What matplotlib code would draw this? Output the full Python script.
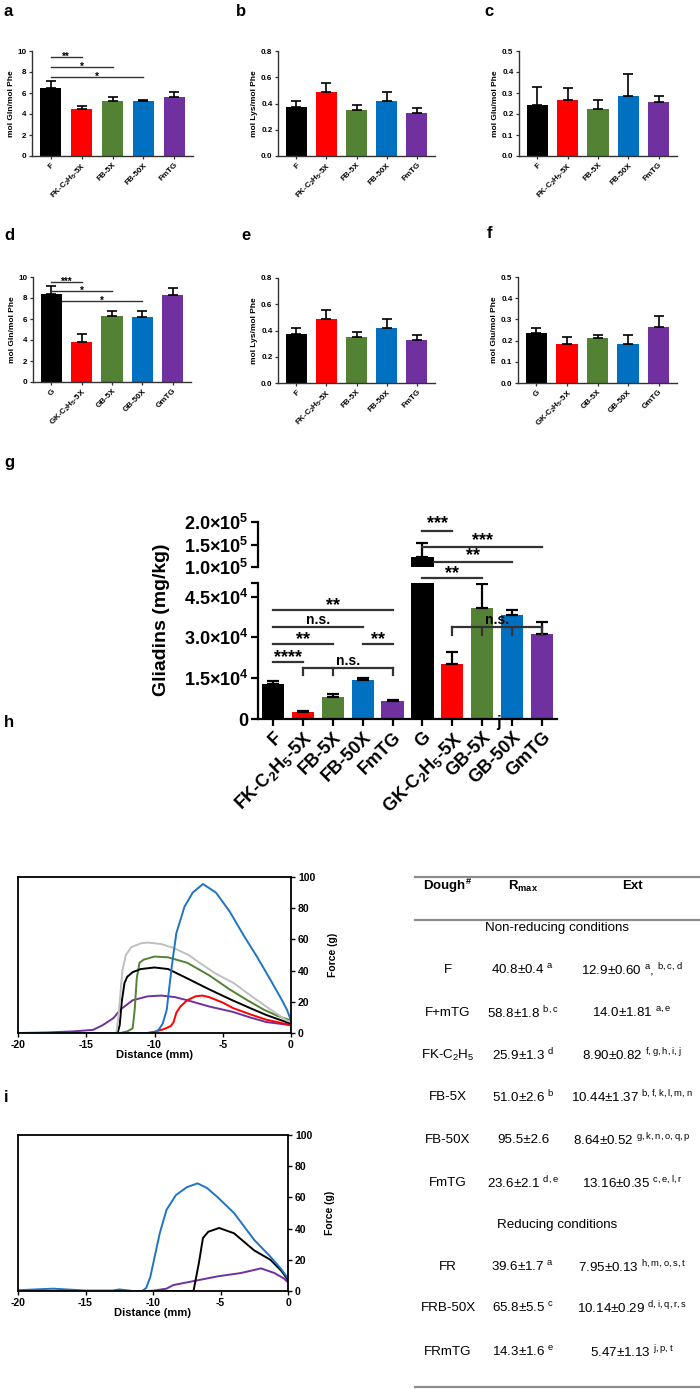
import matplotlib
matplotlib.use("Agg")
import matplotlib.pyplot as plt
import numpy as np

plt.rcParams['font.family'] = ['Liberation Sans', 'DejaVu Sans']
plt.rcParams['mathtext.default'] = 'regular'

W, H = 700, 1389

# ---------------- data ----------------
colors5 = ['#000000', '#FF0000', '#548235', '#0070C0', '#7030A0']
labels_F = ['F', 'FK-C$_2$H$_5$-5X', 'FB-5X', 'FB-50X', 'FmTG']
labels_G = ['G', 'GK-C$_2$H$_5$-5X', 'GB-5X', 'GB-50X', 'GmTG']

a_vals = [6.5, 4.5, 5.2, 5.2, 5.65]
a_err = [7.15, 4.8, 5.65, 5.35, 6.05]
b_vals = [0.37, 0.49, 0.35, 0.42, 0.33]
b_err = [0.42, 0.56, 0.39, 0.49, 0.365]
c_vals = [0.245, 0.265, 0.222, 0.285, 0.255]
c_err = [0.33, 0.322, 0.267, 0.39, 0.285]
d_vals = [8.4, 3.8, 6.25, 6.15, 8.25]
d_err = [9.15, 4.55, 6.75, 6.8, 8.95]
e_vals = [0.37, 0.49, 0.35, 0.42, 0.33]
e_err = [0.42, 0.56, 0.39, 0.49, 0.365]
f_vals = [0.235, 0.182, 0.21, 0.182, 0.265]
f_err = [0.258, 0.218, 0.226, 0.228, 0.318]

g_labels = labels_F + labels_G
g_vals = [12800, 2500, 8050, 14270, 6600, 122000, 20100, 40980, 38400, 31100]
g_err = [13900, 2900, 9150, 15000, 6950, 153000, 24500, 49750, 39900, 35500]

# h curves (distance mm, force g)
h_blue_x = [-20, -10.5, -10.0, -9.7, -9.4, -9.1, -9.0, -8.7, -8.4, -7.8, -7.2, -6.45, -5.5, -4.5, -3.5, -2.5, -1.5, -0.66, -0.3, 0]
h_blue_y = [0, 0, 0.5, 2, 6, 15, 23, 45, 64, 81, 90, 95.5, 90, 78, 63, 49, 34, 21, 15, 8]
h_gray_x = [-20, -12.8, -12.65, -12.5, -12.35, -12.1, -11.7, -11.0, -10.5, -9.5, -8.6, -7.5, -6.7, -5.5, -4.2, -2.8, -1.5, -0.3, 0]
h_gray_y = [0, 0, 10, 25, 40, 50, 55, 57.5, 58, 57, 54.5, 50, 45, 38, 32, 23, 15, 8, 7]
h_green_x = [-20, -12.5, -12.0, -11.6, -11.45, -11.3, -11.1, -10.8, -10.0, -9.0, -7.6, -6.0, -4.5, -3.2, -2.0, -1.0, 0]
h_green_y = [0, 0, 1, 3, 15, 35, 45, 47, 49, 48.5, 45, 37, 28, 21, 15, 11, 8]
h_black_x = [-20, -12.7, -12.55, -12.4, -12.2, -12.0, -11.6, -11.0, -10.0, -9.0, -7.6, -6.0, -4.3, -3.0, -1.8, -1.0, 0]
h_black_y = [0, 0, 5, 20, 32, 36, 39, 41, 42, 41, 35, 28, 21, 16, 11.5, 9, 6]
h_red_x = [-20, -10.5, -10.0, -9.3, -8.8, -8.6, -8.4, -8.1, -7.6, -7.0, -6.5, -6.0, -5.0, -4.25, -3.0, -1.8, -1.0, 0]
h_red_y = [0, 0, 0.8, 2.5, 4.5, 7, 13, 17, 21, 23.5, 24, 23, 19.5, 16, 12, 8.5, 7, 5]
h_purple_x = [-20, -18, -16, -14.5, -13.8, -13.0, -12.5, -11.6, -10.5, -9.5, -8.5, -7.6, -6.0, -4.25, -3.0, -1.8, 0]
h_purple_y = [0, 0.3, 1, 2, 5, 9.6, 15, 21, 23.5, 24, 23, 21, 17, 13.5, 10, 7, 5]

i_blue_x = [-20, -17.4, -15, -13, -12.5, -11.5, -10.8, -10.5, -10.2, -9.5, -9.0, -8.3, -7.5, -6.7, -6.0, -5.2, -4.0, -2.5, -1.3, -0.5, 0]
i_blue_y = [0.5, 1.5, 0.3, 0.3, 1, 0, 0, 2, 9, 37, 52, 61.5, 66.5, 69, 66, 60, 50, 32.7, 22, 14, 8]
i_black_x = [-20, -7.0, -6.6, -6.3, -5.9, -5.1, -4.0, -2.5, -1.3, -0.5, 0]
i_black_y = [0, 0, 18, 34, 38, 40.4, 37, 26, 20, 13, 7]
i_purple_x = [-20, -10.5, -10.0, -9.0, -8.5, -7.2, -5.2, -3.5, -2.0, -1.0, -0.3, 0]
i_purple_y = [0, 0, 0.2, 1.5, 3.8, 6, 9.4, 11.5, 14.5, 11.5, 8, 5.5]

curve_colors = {'blue': '#1F74C4', 'gray': '#BFBFBF', 'green': '#548235',
                'black': '#000000', 'red': '#FF0000', 'purple': '#7030A0'}

table_dough = ['F', 'F+mTG', 'FK-C$_2$H$_5$', 'FB-5X', 'FB-50X', 'FmTG', 'FR', 'FRB-50X', 'FRmTG']
table_rmax = ['40.8±0.4 $^{a}$', '58.8±1.8 $^{b,c}$', '25.9±1.3 $^{d}$', '51.0±2.6 $^{b}$',
              '95.5±2.6', '23.6±2.1 $^{d, e}$', '39.6±1.7 $^{a}$', '65.8±5.5 $^{c}$', '14.3±1.6 $^{e}$']
table_ext = ['12.9±0.60 $^{a}$, $^{b, c, d}$', '14.0±1.81 $^{a, e}$', '8.90±0.82 $^{f, g, h, i, j}$',
             '10.44±1.37 $^{b, f, k, l, m, n}$', '8.64±0.52 $^{g, k, n, o, q, p}$',
             '13.16±0.35 $^{c, e, l, r}$', '7.95±0.13 $^{h, m, o, s, t}$',
             '10.14±0.29 $^{d, i, q, r, s}$', '5.47±1.13 $^{j, p, t}$']

# ---------------- figure ----------------
fig = plt.figure(figsize=(W / 100, H / 100), dpi=100)


def rect(x0, y0, x1, y1):
    return [x0 / W, 1 - y1 / H, (x1 - x0) / W, (y1 - y0) / H]


def small_bar(r, vals, errs, labels, ylim, yticks, yfmt, ylabel):
    ax = fig.add_axes(rect(*r))
    x = np.arange(len(vals))
    ax.bar(x, vals, width=0.7, color=colors5, zorder=2)
    lo = np.zeros(len(vals))
    hi = np.array(errs) - np.array(vals)
    ax.errorbar(x, vals, yerr=[lo, hi], fmt='none', ecolor='black', elinewidth=1.2,
                capsize=3.5, capthick=1.2, zorder=3)
    ax.set_xlim(-0.6, 4.6)
    ax.set_ylim(*ylim)
    ax.set_yticks(yticks)
    ax.set_yticklabels([yfmt.format(t) for t in yticks], fontsize=5.8, fontweight='bold')
    ax.set_xticks(x)
    ax.set_xticklabels(labels, rotation=45, ha='right', rotation_mode='anchor',
                       fontsize=5.8, fontweight='bold')
    ax.set_ylabel(ylabel, fontsize=6, fontweight='bold', labelpad=2)
    for s in ['top', 'right']:
        ax.spines[s].set_visible(False)
    for s in ['left', 'bottom']:
        ax.spines[s].set_linewidth(1.0)
        ax.spines[s].set_color('#333333')
    ax.tick_params(direction='out', length=2.5, width=0.9, pad=1.5, colors='#333333')
    ax.tick_params(labelcolor='black')
    return ax


def sig(ax, x0, x1, y, txt, fs=7, dy=0.0, lw=1.0, clip=True):
    ax.plot([x0, x1], [y, y], color='#333333', lw=lw, clip_on=clip, zorder=4)
    ax.text((x0 + x1) / 2, y + dy, txt, ha='center', va='bottom', fontsize=fs,
            fontweight='bold', clip_on=False)


ax_a = small_bar((32, 51, 193, 156), a_vals, a_err, labels_F, (0, 10), [0, 2, 4, 6, 8, 10], '{:g}', 'mol Gln/mol Phe')
sig(ax_a, 0, 1, 9.43, '**', dy=-0.45)
sig(ax_a, 0, 2, 8.5, '*', dy=-0.45)
sig(ax_a, 0, 3, 7.5, '*', dy=-0.45)
small_bar((278, 51, 435, 156), b_vals, b_err, labels_F, (0, 0.8), [0, 0.2, 0.4, 0.6, 0.8], '{:.1f}', 'mol Lys/mol Phe')
small_bar((519, 51, 677, 156), c_vals, c_err, labels_F, (0, 0.5), [0, 0.1, 0.2, 0.3, 0.4, 0.5], '{:.1f}', 'mol Glu/mol Phe')
ax_d = small_bar((33, 277, 191, 382), d_vals, d_err, labels_G, (0, 10), [0, 2, 4, 6, 8, 10], '{:g}', 'mol Gln/mol Phe')
sig(ax_d, 0, 1, 9.52, '***', dy=-0.45)
sig(ax_d, 0, 2, 8.67, '*', dy=-0.45)
sig(ax_d, 0.36, 3, 7.7, '*', dy=-0.45)
small_bar((278, 278, 435, 383), e_vals, e_err, labels_F, (0, 0.8), [0, 0.2, 0.4, 0.6, 0.8], '{:.1f}', 'mol Lys/mol Phe')
small_bar((518, 277, 677, 383), f_vals, f_err, labels_G, (0, 0.5), [0, 0.1, 0.2, 0.3, 0.4, 0.5], '{:.1f}', 'mol Glu/mol Phe')

# ---------------- panel g ----------------
gx = np.arange(len(g_vals))
gcol = colors5 + colors5
ax_gu = fig.add_axes(rect(258, 522, 557, 567))
ax_gl = fig.add_axes(rect(258, 583, 557, 719))
for ax in (ax_gu, ax_gl):
    ax.bar(gx, g_vals, width=0.74, color=gcol, zorder=2)
    hi = np.array(g_err) - np.array(g_vals)
    ax.errorbar(gx, g_vals, yerr=[np.zeros(len(gx)), hi], fmt='none', ecolor='black',
                elinewidth=1.6, capsize=4, capthick=1.6, zorder=3)
    ax.set_xlim(-0.5, 9.5)
    for s in ['top', 'right']:
        ax.spines[s].set_visible(False)
    ax.spines['left'].set_linewidth(1.6)
    ax.spines['bottom'].set_linewidth(1.6)
    ax.tick_params(direction='out', length=5, width=1.6, pad=2)
ax_gu.set_ylim(100000, 200000)
ax_gu.spines['bottom'].set_visible(False)
ax_gu.set_xticks([])
ax_gu.set_yticks([100000, 150000, 200000])
ax_gu.set_yticklabels(['1.0×10$^5$', '1.5×10$^5$', '2.0×10$^5$'], fontsize=13, fontweight='bold')
ax_gl.set_ylim(0, 50000)
ax_gl.set_yticks([0, 15000, 30000, 45000, 50000])
ax_gl.set_yticklabels(['0', '1.5×10$^4$', '3.0×10$^4$', '4.5×10$^4$', ''], fontsize=13, fontweight='bold')
ax_gl.set_xticks(gx)
ax_gl.set_xticklabels(g_labels, rotation=45, ha='right', rotation_mode='anchor',
                      fontsize=13, fontweight='bold')
fig.text(162 / W, 1 - 620 / H, 'Gliadins (mg/kg)', rotation=90, ha='center', va='center',
         fontsize=14, fontweight='bold')

# significance, left group
sig(ax_gl, 0, 4, 39900, '**', fs=13, dy=-1500, lw=1.6)
sig(ax_gl, 0, 3, 33700, 'n.s.', fs=10, dy=0, lw=1.6)
sig(ax_gl, 0, 2, 27400, '**', fs=13, dy=-1500, lw=1.6)
sig(ax_gl, 3, 4, 27400, '**', fs=13, dy=-1500, lw=1.6)
sig(ax_gl, 0, 1, 20850, '****', fs=13, dy=-1500, lw=1.6)
sig(ax_gl, 1, 4, 18650, 'n.s.', fs=10, dy=0, lw=1.6)
for xx in (1, 2, 4):
    ax_gl.plot([xx, xx], [18650, 16100], color='#333333', lw=1.6, zorder=4)
# right group
sig(ax_gu, 5, 6, 180000, '***', fs=13, dy=-3500, lw=1.6, clip=False)
sig(ax_gu, 5, 9, 144000, '***', fs=13, dy=-3500, lw=1.6, clip=False)
sig(ax_gu, 5.37, 8, 111000, '**', fs=13, dy=-3500, lw=1.6, clip=False)
sig(ax_gl, 5, 7, 51800, '**', fs=13, dy=-1500, lw=1.6, clip=False)
sig(ax_gl, 6, 9, 33650, 'n.s.', fs=10, dy=0, lw=1.6)
for xx in (6, 7, 8, 9):
    ax_gl.plot([xx, xx], [33650, 30900], color='#333333', lw=1.6, zorder=4)


# ---------------- panels h, i ----------------
def force_axes(r):
    ax = fig.add_axes(rect(*r))
    ax.set_xlim(-20, 0)
    ax.set_ylim(0, 100)
    for s in ax.spines.values():
        s.set_linewidth(1.3)
    ax.yaxis.tick_right()
    ax.yaxis.set_label_position('right')
    ax.set_yticks([0, 20, 40, 60, 80, 100])
    ax.set_yticklabels(['0', '20', '40', '60', '80', '100'], fontsize=7.5, fontweight='bold')
    ax.set_xticks([-20, -15, -10, -5, 0])
    ax.set_xticklabels(['-20', '-15', '-10', '-5', '0'], fontsize=7.5, fontweight='bold')
    ax.tick_params(direction='out', length=3, width=1.0, pad=2)
    ax.set_xlabel('Distance (mm)', fontsize=8, fontweight='bold', labelpad=0)
    ax.set_ylabel('Force (g)', fontsize=7.5, fontweight='bold', labelpad=9)
    return ax


ax_h = force_axes((18, 877, 291, 1033))
ax_h.plot(h_purple_x, h_purple_y, color=curve_colors['purple'], lw=1.4)
ax_h.plot(h_red_x, h_red_y, color=curve_colors['red'], lw=1.4)
ax_h.plot(h_green_x, h_green_y, color=curve_colors['green'], lw=1.4)
ax_h.plot(h_black_x, h_black_y, color=curve_colors['black'], lw=1.4)
ax_h.plot(h_gray_x, h_gray_y, color=curve_colors['gray'], lw=1.4)
ax_h.plot(h_blue_x, h_blue_y, color=curve_colors['blue'], lw=1.4)

ax_i = force_axes((18, 1135, 288, 1291))
ax_i.plot(i_purple_x, i_purple_y, color=curve_colors['purple'], lw=1.4)
ax_i.plot(i_black_x, i_black_y, color=curve_colors['black'], lw=1.4)
ax_i.plot(i_blue_x, i_blue_y, color=curve_colors['blue'], lw=1.4)

# ---------------- panel j (table) ----------------
def fx(px):
    return px / W


def fy(py):
    return 1 - py / H


line_col = '#8C8C8C'
for yy in (877, 920, 1387):
    fig.add_artist(plt.Line2D([fx(415), fx(700)], [fy(yy), fy(yy)], color=line_col, lw=1.6))
fig.text(fx(448), fy(886), 'Dough$^{\\#}$', ha='center', va='center', fontsize=9.5, fontweight='bold')
fig.text(fx(523), fy(886), 'R$_{max}$', ha='center', va='center', fontsize=9.5, fontweight='bold')
fig.text(fx(632), fy(886), 'Ext', ha='center', va='center', fontsize=9.5, fontweight='bold')
fig.text(fx(557), fy(928), 'Non-reducing conditions', ha='center', va='center', fontsize=9.6)
fig.text(fx(557), fy(1225), 'Reducing conditions', ha='center', va='center', fontsize=9.6)
row_y = [970, 1013, 1055, 1097, 1140, 1183, 1267, 1308, 1352]
for yy, d, r, e in zip(row_y, table_dough, table_rmax, table_ext):
    fig.text(fx(448), fy(yy), d, ha='center', va='center', fontsize=9.6)
    fig.text(fx(523), fy(yy), r, ha='center', va='center', fontsize=9.6)
    fig.text(fx(632), fy(yy), e, ha='center', va='center', fontsize=9.6)

# ---------------- panel letters ----------------
for lab, px, py in [('a', 4, 12), ('b', 236, 12), ('c', 484, 12), ('d', 4, 235), ('e', 241, 235),
                    ('f', 487, 233), ('g', 4, 463), ('h', 4, 723), ('i', 4, 1097), ('j', 496, 723)]:
    fig.text(fx(px), fy(py), lab, ha='left', va='center', fontsize=12, fontweight='bold')

fig.savefig('out.png', dpi=100)
